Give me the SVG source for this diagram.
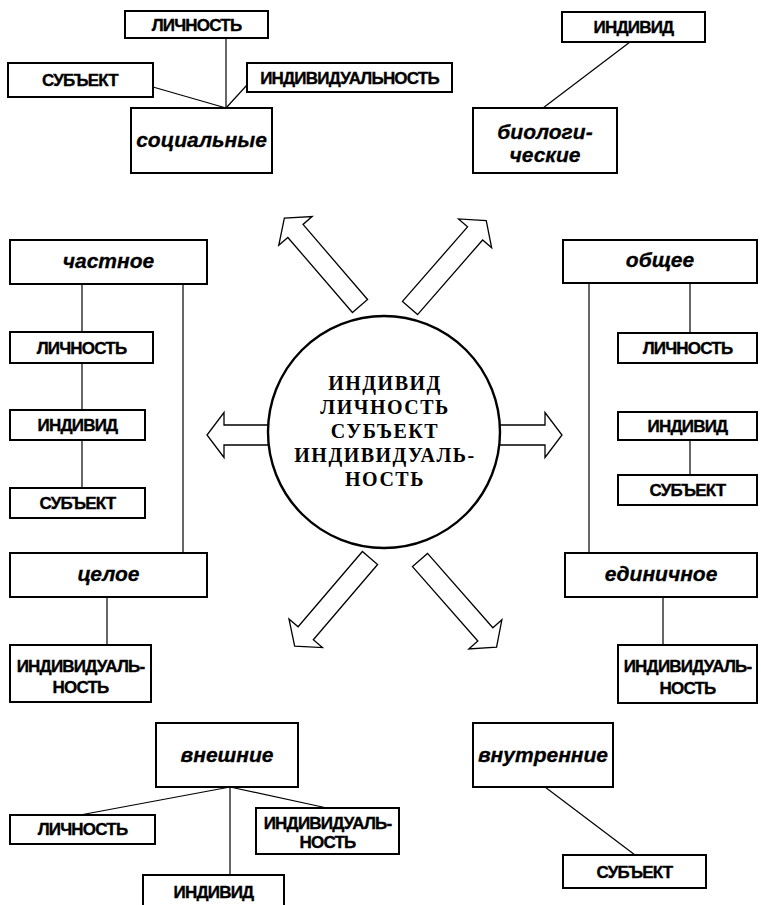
<svg xmlns="http://www.w3.org/2000/svg" width="761" height="905" viewBox="0 0 761 905">
<style>
.box{fill:#fff;stroke:#000;stroke-width:2}
.ln{stroke:#000;stroke-width:1.2;fill:none}
.arr{fill:#fff;stroke:#000;stroke-width:1.3;stroke-linejoin:miter}
.up{font-family:"Liberation Sans",Arial,sans-serif;font-weight:bold;font-size:17px;letter-spacing:-0.8px;text-anchor:middle;fill:#000;stroke:#000;stroke-width:0.35}
.it{font-family:"Liberation Sans",Arial,sans-serif;font-weight:bold;font-style:italic;font-size:21px;text-anchor:middle;fill:#000;stroke:#000;stroke-width:0.3}
.ct{font-family:"Liberation Serif","Times New Roman",serif;font-weight:bold;font-size:20px;letter-spacing:1.5px;text-anchor:middle;fill:#000}
</style>
<defs>
<path id="darr" d="M0,-10 H99 V-22 L116,0 L99,22 V10 H0 Z"/>
<path id="harr" d="M0,-10 H57 V-22.5 L74,0 L57,22.5 V10 H0 Z"/>
</defs>
<rect width="761" height="905" fill="#fff"/>
<g id="connectors">
<line class="ln" x1="226" y1="38" x2="226" y2="108"/>
<line class="ln" x1="153" y1="87" x2="226" y2="108"/>
<line class="ln" x1="247" y1="85" x2="226" y2="108"/>
<line class="ln" x1="630" y1="42" x2="543" y2="108"/>
<line class="ln" x1="82" y1="284" x2="82" y2="332"/>
<line class="ln" x1="82" y1="363" x2="82" y2="410"/>
<line class="ln" x1="82" y1="440" x2="82" y2="488"/>
<line class="ln" x1="183" y1="284" x2="183" y2="553"/>
<line class="ln" x1="107" y1="597" x2="107" y2="645"/>
<line class="ln" x1="589" y1="283" x2="589" y2="553"/>
<line class="ln" x1="690" y1="283" x2="690" y2="333"/>
<line class="ln" x1="690" y1="440" x2="690" y2="475"/>
<line class="ln" x1="663" y1="597" x2="663" y2="645"/>
<line class="ln" x1="230" y1="787" x2="80" y2="815"/>
<line class="ln" x1="230" y1="787" x2="327" y2="808"/>
<line class="ln" x1="230" y1="787" x2="230" y2="875"/>
<line class="ln" x1="545" y1="787" x2="635" y2="855"/>
<use href="#darr" class="arr" transform="translate(360,306) rotate(-130.7)"/>
<use href="#darr" class="arr" transform="translate(410,308) rotate(-48.9)"/>
<use href="#darr" class="arr" transform="translate(370,558) rotate(130.5)"/>
<use href="#darr" class="arr" transform="translate(420,560) rotate(48.7)"/>
<use href="#harr" class="arr" transform="translate(281,435) rotate(180)"/>
<use href="#harr" class="arr" transform="translate(488,435)"/>
</g>
<g id="center">
<circle cx="384" cy="432" r="116" fill="#fff" stroke="#000" stroke-width="2.4"/>
<text class="ct" x="385" y="390">ИНДИВИД</text>
<text class="ct" x="385" y="414">ЛИЧНОСТЬ</text>
<text class="ct" x="385" y="438">СУБЪЕКТ</text>
<text class="ct" x="385" y="462">ИНДИВИДУАЛЬ-</text>
<text class="ct" x="385" y="486">НОСТЬ</text>
</g>
<g id="tl-lichnost"><rect class="box" x="125" y="11" width="143" height="27"/><text class="up" x="196.5" y="31">ЛИЧНОСТЬ</text></g>
<g id="tl-subekt"><rect class="box" x="8" y="63" width="145" height="34"/><text class="up" x="80" y="86">СУБЪЕКТ</text></g>
<g id="tl-individualnost"><rect class="box" x="247" y="63" width="205" height="29"/><text class="up" x="349.5" y="84">ИНДИВИДУАЛЬНОСТЬ</text></g>
<g id="socialnye"><rect class="box" x="131" y="108" width="141" height="65"/><text class="it" x="201.5" y="147">социальные</text></g>
<g id="tr-individ"><rect class="box" x="562" y="12" width="143" height="30"/><text class="up" x="633.5" y="33">ИНДИВИД</text></g>
<g id="biologicheskie"><rect class="box" x="473" y="108" width="144" height="65"/><text class="it" x="545" y="139">биологи-</text><text class="it" x="545" y="162">ческие</text></g>
<g id="chastnoe"><rect class="box" x="10" y="240" width="197" height="44"/><text class="it" x="108.5" y="268">частное</text></g>
<g id="l-lichnost"><rect class="box" x="10" y="332" width="143" height="31"/><text class="up" x="81.5" y="354">ЛИЧНОСТЬ</text></g>
<g id="l-individ"><rect class="box" x="10" y="410" width="135" height="30"/><text class="up" x="77.5" y="431">ИНДИВИД</text></g>
<g id="l-subekt"><rect class="box" x="10" y="488" width="135" height="30"/><text class="up" x="77.5" y="509">СУБЪЕКТ</text></g>
<g id="celoe"><rect class="box" x="10" y="553" width="197" height="44"/><text class="it" x="108.5" y="581">целое</text></g>
<g id="l-individualnost"><rect class="box" x="10" y="645" width="141" height="57"/><text class="up" x="80.5" y="672">ИНДИВИДУАЛЬ-</text><text class="up" x="80.5" y="693">НОСТЬ</text></g>
<g id="obshchee"><rect class="box" x="563" y="240" width="194" height="43"/><text class="it" x="660" y="267">общее</text></g>
<g id="r-lichnost"><rect class="box" x="618" y="333" width="139" height="30"/><text class="up" x="687.5" y="354">ЛИЧНОСТЬ</text></g>
<g id="r-individ"><rect class="box" x="618" y="412" width="139" height="28"/><text class="up" x="687.5" y="432">ИНДИВИД</text></g>
<g id="r-subekt"><rect class="box" x="618" y="475" width="139" height="30"/><text class="up" x="687.5" y="496">СУБЪЕКТ</text></g>
<g id="edinichnoe"><rect class="box" x="565" y="553" width="192" height="44"/><text class="it" x="661" y="581">единичное</text></g>
<g id="r-individualnost"><rect class="box" x="618" y="645" width="139" height="58"/><text class="up" x="687.5" y="672">ИНДИВИДУАЛЬ-</text><text class="up" x="687.5" y="694">НОСТЬ</text></g>
<g id="vneshnie"><rect class="box" x="156" y="723" width="142" height="64"/><text class="it" x="227" y="762">внешние</text></g>
<g id="b-lichnost"><rect class="box" x="10" y="815" width="145" height="29"/><text class="up" x="82.5" y="835">ЛИЧНОСТЬ</text></g>
<g id="b-individualnost"><rect class="box" x="256" y="808" width="143" height="46"/><text class="up" x="327.5" y="829">ИНДИВИДУАЛЬ-</text><text class="up" x="327.5" y="848">НОСТЬ</text></g>
<g id="b-individ"><rect class="box" x="143" y="875" width="141" height="40"/><text class="up" x="213.5" y="898">ИНДИВИД</text></g>
<g id="vnutrennie"><rect class="box" x="473" y="723" width="140" height="64"/><text class="it" x="543" y="762">внутренние</text></g>
<g id="br-subekt"><rect class="box" x="563" y="855" width="143" height="33"/><text class="up" x="634.5" y="878">СУБЪЕКТ</text></g>
</svg>
